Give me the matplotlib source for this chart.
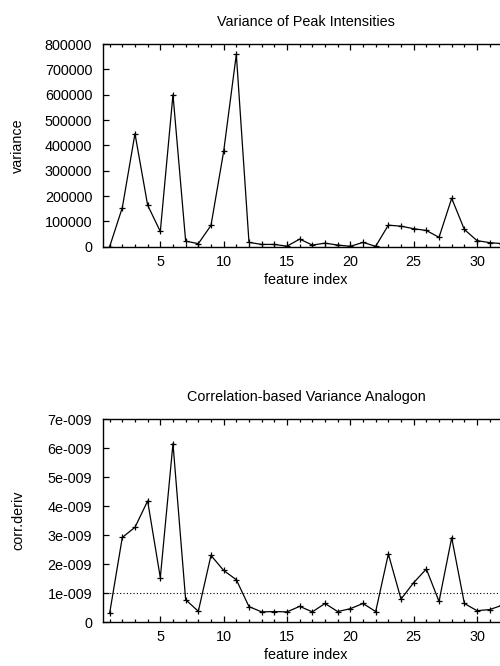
import matplotlib
matplotlib.use("Agg")
import matplotlib.pyplot as plt
from matplotlib.ticker import MultipleLocator, FixedLocator, FixedFormatter

plt.rcParams['font.family'] = ['Liberation Sans', 'DejaVu Sans']

feature_index = list(range(1, 33))

variance = [0, 154000, 446000, 164000, 60000, 600000, 22000, 12000, 84000, 376000,
            759000, 17000, 9000, 9000, 2000, 30000, 6500, 14000, 6500, 1500,
            17000, 1500, 85000, 81000, 71000, 64000, 37000, 191000, 68000, 24000,
            16000, 12000]

corr_deriv = [0.30e-9, 2.92e-9, 3.27e-9, 4.18e-9, 1.53e-9, 6.16e-9, 0.77e-9, 0.37e-9,
              2.30e-9, 1.78e-9, 1.46e-9, 0.53e-9, 0.35e-9, 0.36e-9, 0.35e-9, 0.54e-9,
              0.35e-9, 0.64e-9, 0.36e-9, 0.46e-9, 0.64e-9, 0.36e-9, 2.35e-9, 0.79e-9,
              1.36e-9, 1.83e-9, 0.71e-9, 2.91e-9, 0.64e-9, 0.39e-9, 0.43e-9, 0.58e-9]

corr_threshold = 1e-9

x_ticks = [5, 10, 15, 20, 25, 30]
var_ticks = [0, 100000, 200000, 300000, 400000, 500000, 600000, 700000, 800000]
var_tick_labels = ["0", "100000", "200000", "300000", "400000", "500000", "600000", "700000", "800000"]
corr_ticks = [0, 1e-9, 2e-9, 3e-9, 4e-9, 5e-9, 6e-9, 7e-9]
corr_tick_labels = ["0", "1e-009", "2e-009", "3e-009", "4e-009", "5e-009", "6e-009", "7e-009"]

W, H = 500, 666
fig = plt.figure(figsize=(W / 100, H / 100), dpi=100)

FS = 10.4


def px_axes(left, top, right, bottom):
    return fig.add_axes([left / W, 1 - bottom / H, (right - left) / W, (bottom - top) / H])


def style(ax, yticks, ylabels, ymax):
    ax.set_xlim(0.5, 32.5)
    ax.set_ylim(0, ymax)
    ax.xaxis.set_major_locator(FixedLocator(x_ticks))
    ax.xaxis.set_minor_locator(MultipleLocator(1))
    ax.yaxis.set_major_locator(FixedLocator(yticks))
    ax.yaxis.set_major_formatter(FixedFormatter(ylabels))
    ax.tick_params(axis='both', which='both', direction='in', top=True, right=True,
                   labelsize=FS, colors='black', width=0.9)
    ax.tick_params(axis='both', which='major', length=4.5)
    ax.tick_params(axis='x', which='major', pad=6)
    ax.tick_params(axis='y', which='major', pad=8)
    ax.tick_params(axis='both', which='minor', length=2.3)
    for s in ax.spines.values():
        s.set_linewidth(1.0)
        s.set_color('black')


ax1 = px_axes(103.3, 44, 508.7, 246.7)
ax1.axhline(0, color='black', ls=':', lw=0.8)
ax1.plot(feature_index, variance, color='black', lw=0.9, marker='+', ms=5, mew=0.9)
style(ax1, var_ticks, var_tick_labels, 800000)

ax2 = px_axes(103.3, 419.3, 508.7, 622)
ax2.axhline(corr_threshold, color='black', ls=(0, (1, 2)), lw=0.8)
ax2.plot(feature_index, corr_deriv, color='black', lw=0.9, marker='+', ms=5, mew=0.9)
style(ax2, corr_ticks, corr_tick_labels, 7e-9)

fig.text(306 / W, 1 - 22 / H, "Variance of Peak Intensities", ha='center', va='center', fontsize=FS)
fig.text(306 / W, 1 - 397 / H, "Correlation-based Variance Analogon", ha='center', va='center', fontsize=FS)
fig.text(306 / W, 1 - 280 / H, "feature index", ha='center', va='center', fontsize=FS)
fig.text(306 / W, 1 - 655 / H, "feature index", ha='center', va='center', fontsize=FS)
fig.text(18 / W, 1 - 145.4 / H, "variance", ha='center', va='center', rotation=90, fontsize=FS)
fig.text(18 / W, 1 - 520.7 / H, "corr.deriv", ha='center', va='center', rotation=90, fontsize=FS)

fig.savefig("out.png", dpi=100)
